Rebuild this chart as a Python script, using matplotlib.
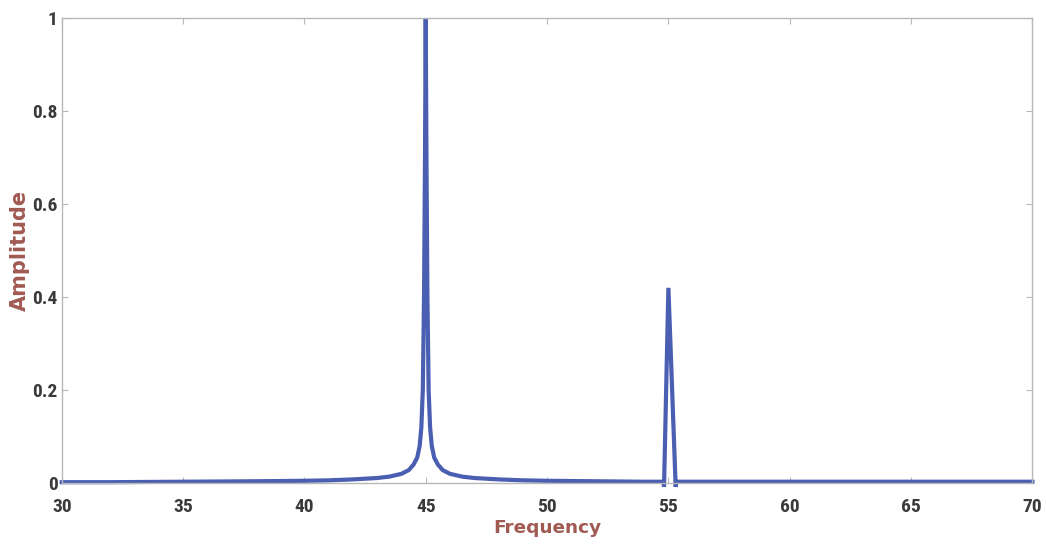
import matplotlib
matplotlib.use("Agg")
import matplotlib.pyplot as plt
from matplotlib import font_manager
from matplotlib.ticker import FuncFormatter

# Spectrum read-out: frequency (Hz) and normalised amplitude
frequency = [30.0, 32.0, 35.0, 38.0, 40.0, 41.0, 42.0, 43.0, 43.5, 44.0,
             44.3, 44.5, 44.65, 44.75, 44.82, 44.88, 44.93, 44.97, 45.0,
             45.03, 45.07, 45.12, 45.18, 45.25, 45.35, 45.5, 45.7, 46.0,
             46.5, 47.0, 48.0, 49.0, 50.0, 52.0, 54.0, 54.8, 54.82,
             55.0, 55.3, 55.33, 58.0, 62.0, 66.0, 70.0]
amplitude = [0.002, 0.002, 0.003, 0.004, 0.005, 0.006, 0.008, 0.011, 0.014, 0.020,
             0.028, 0.040, 0.055, 0.080, 0.120, 0.200, 0.400, 0.700, 1.000,
             0.700, 0.400, 0.200, 0.120, 0.080, 0.055, 0.040, 0.028, 0.020,
             0.014, 0.011, 0.008, 0.006, 0.005, 0.004, 0.003, 0.003, -0.008,
             0.420, -0.008, 0.003, 0.003, 0.003, 0.003, 0.003]

x_ticks = [30, 35, 40, 45, 50, 55, 60, 65, 70]
y_ticks = [0, 0.2, 0.4, 0.6, 0.8, 1.0]

# condensed bold face for the tick numbers, if one is installed
names = {f.name for f in font_manager.fontManager.ttflist}
narrow = [n for n in ("Liberation Sans Narrow", "Roboto Condensed",
                      "DejaVu Sans Condensed") if n in names]
tick_font = narrow + ["DejaVu Sans"]
label_font = ["DejaVu Sans"]
label_color = "#a05a52"

fig = plt.figure(figsize=(10.46, 5.49), dpi=100)
ax = fig.add_axes([0.059, 0.120, 0.928, 0.847])

ax.plot(frequency, amplitude, color="#4a5eb2", linewidth=3.0,
        solid_joinstyle="miter", clip_on=False)

ax.set_xlim(30, 70)
ax.set_ylim(0, 1)
ax.set_xticks(x_ticks)
ax.set_yticks(y_ticks)
ax.yaxis.set_major_formatter(FuncFormatter(lambda v, p: f"{v:g}"))

for side in ax.spines.values():
    side.set_color("#b8b8b8")
    side.set_linewidth(1.0)

ax.tick_params(axis="both", direction="in", length=4, width=0.8,
               color="#b8b8b8", labelcolor="#3a3a3a", labelsize=14,
               top=True, right=True)
ax.tick_params(axis="x", pad=11)
ax.tick_params(axis="y", pad=3)
for lbl in ax.get_xticklabels() + ax.get_yticklabels():
    lbl.set_fontfamily(tick_font)
    lbl.set_fontstretch("condensed")
    lbl.set_fontweight("bold")

ax.set_xlabel("Frequency", fontsize=13.3, fontweight="bold",
              color=label_color, family=label_font, labelpad=2)
ax.set_ylabel("Amplitude", fontsize=15, fontweight="bold",
              color=label_color, family=label_font, labelpad=2)

fig.savefig("out.png", dpi=100, facecolor="white")
